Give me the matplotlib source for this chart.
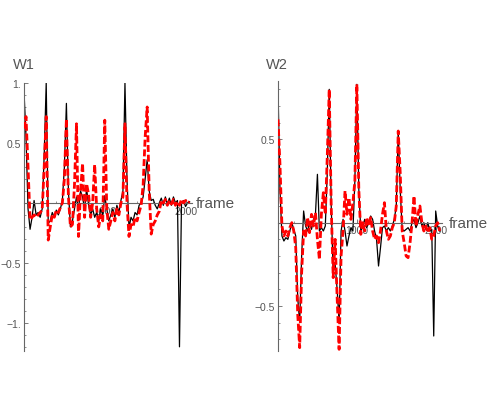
import numpy as np
import matplotlib
matplotlib.use("Agg")
import matplotlib.pyplot as plt
from matplotlib.ticker import FixedLocator, MultipleLocator

plt.rcParams['font.family'] = ['Liberation Sans', 'DejaVu Sans']

frame_step = 25

w1_black = [0.93, 0.55, -0.05, -0.22, -0.12, 0.02, -0.10, -0.08, -0.12, -0.05,
            0.40, 1.00, -0.17, -0.15, -0.08, -0.12, -0.06, -0.10, -0.05, 0.02,
            0.30, 0.83, 0.10, -0.20, -0.15, -0.05, 0.05, -0.05, 0.10, 0.05,
            -0.05, 0.12, -0.02, -0.10, -0.05, -0.12, -0.08, -0.15, -0.05, -0.10,
            0.06, -0.05, -0.15, -0.10, -0.05, -0.12, -0.02, -0.08, 0.02, 0.10,
            1.00, 0.20, -0.21, -0.12, -0.15, -0.08, -0.10, -0.02, 0.00, 0.05,
            0.20, 0.36, 0.10, 0.02, 0.03, -0.02, -0.05, 0.00, 0.04, -0.02,
            0.05, -0.01, 0.04, -0.02, 0.05, 0.00, 0.02, -1.20, 0.00, 0.02,
            -0.03, 0.00, 0.01]
w1_red = [0.62, 0.72, 0.30, -0.14, -0.12, -0.10, -0.12, -0.10, -0.08, -0.06,
          0.30, 0.72, -0.31, -0.20, -0.10, -0.12, -0.06, -0.08, -0.04, 0.00,
          0.20, 0.70, 0.05, -0.20, -0.18, 0.15, 0.66, -0.28, 0.10, 0.33,
          -0.12, 0.16, 0.07, -0.12, 0.00, 0.32, -0.05, -0.20, -0.10, -0.15,
          0.69, -0.05, -0.22, -0.15, -0.08, -0.15, -0.05, -0.10, 0.00, 0.05,
          0.66, 0.00, -0.28, -0.18, -0.20, -0.12, -0.15, -0.08, -0.02, 0.15,
          0.55, 0.80, 0.10, -0.26, -0.18, -0.15, -0.10, -0.07, 0.02, 0.00,
          0.03, -0.02, 0.02, -0.01, 0.03, -0.02, 0.01, -0.02, 0.03, 0.00,
          0.02, 0.00, 0.01]

w2_black = [0.81, 0.20, -0.08, -0.11, -0.09, -0.10, -0.05, 0.00, -0.04, -0.08,
            -0.45, -0.60, -0.20, 0.07, -0.02, -0.05, 0.00, -0.04, 0.02, 0.05,
            0.29, -0.05, -0.03, -0.05, -0.02, 0.30, 0.80, 0.10, -0.30, -0.25,
            -0.40, -0.60, -0.05, 0.02, -0.05, -0.14, -0.08, -0.03, -0.05, 0.25,
            0.83, 0.20, -0.05, -0.02, 0.02, -0.03, 0.00, 0.04, 0.02, -0.05,
            -0.10, -0.26, -0.15, -0.03, -0.02, -0.05, -0.03, -0.05, -0.02, 0.02,
            0.10, 0.55, 0.20, -0.04, -0.05, -0.04, -0.03, -0.05, 0.00, 0.02,
            -0.03, 0.00, 0.04, -0.02, 0.00, -0.04, 0.00, -0.05, -0.04, -0.68,
            0.07, -0.02, -0.05]
w2_red = [0.62, 0.35, -0.02, -0.08, -0.05, -0.08, -0.03, 0.00, -0.05, -0.15,
          -0.55, -0.75, -0.30, -0.05, -0.08, 0.03, -0.06, 0.05, -0.02, 0.06,
          -0.10, -0.22, 0.05, 0.18, 0.05, 0.40, 0.80, 0.10, -0.33, -0.10,
          -0.45, -0.76, -0.20, -0.05, 0.19, 0.05, 0.15, 0.02, 0.12, 0.25,
          0.83, 0.20, -0.07, 0.00, -0.05, 0.03, -0.02, 0.03, -0.05, -0.10,
          -0.08, -0.12, -0.05, 0.05, 0.12, -0.05, -0.10, -0.08, -0.03, 0.00,
          0.10, 0.55, 0.30, -0.05, -0.12, -0.20, -0.21, -0.12, 0.00, 0.16,
          -0.02, 0.05, 0.10, 0.00, -0.05, -0.02, -0.06, -0.03, -0.10, -0.08,
          -0.02, 0.00, -0.05]

titles = ["W1", "W2"]
x_ticks = [1000, 2000]
y_ticks_w1 = [-1.0, -0.5, 0.5, 1.0]
y_labels_w1 = ["\u22121.", "\u22120.5", "0.5", "1."]
y_ticks_w2 = [-0.5, 0.5]
y_labels_w2 = ["\u22120.5", "0.5"]

W, H = 490, 410
fig = plt.figure(figsize=(4.9, 4.1), dpi=100)

axc = '#666666'
txtc = '#555555'

def setup(ax, ylim, yt, yl, title, title_x):
    ax.set_xlim(0, 2080)
    ax.set_ylim(*ylim)
    for s in ['top', 'right']:
        ax.spines[s].set_visible(False)
    ax.spines['left'].set_position(('data', 0))
    ax.spines['bottom'].set_position(('data', 0))
    for s in ['left', 'bottom']:
        ax.spines[s].set_color(axc)
        ax.spines[s].set_linewidth(0.8)
    ax.xaxis.set_major_locator(FixedLocator(x_ticks))
    ax.xaxis.set_minor_locator(MultipleLocator(200))
    ax.set_xticklabels([str(v) for v in x_ticks])
    ax.yaxis.set_major_locator(FixedLocator(yt))
    ax.yaxis.set_minor_locator(MultipleLocator(0.1))
    ax.set_yticklabels(yl)
    ax.tick_params(which='major', direction='in', length=3, width=0.6,
                   color=axc, labelcolor=txtc, labelsize=7.5, pad=2)
    ax.tick_params(which='minor', direction='in', length=1.5, width=0.5, color=axc)
    ax.patch.set_alpha(0)
    fig.text(title_x / W, 1 - 65 / H, title, fontsize=10.5, color=txtc,
             ha='left', va='center')

frames = np.arange(len(w1_black)) * frame_step

ax1 = fig.add_axes([24 / W, 58 / H, 168 / W, 268 / H])
ax1.plot(frames, w1_black, color='black', lw=0.9, zorder=2)
ax1.plot(frames, w1_red, color='#ff0000', lw=2.0, ls=(0, (2.5, 1)), zorder=3)
setup(ax1, (-1.235, 1.0), y_ticks_w1, y_labels_w1, titles[0], 13)
ax1.text(196 / W, 1 - 204 / H, "frame", transform=fig.transFigure,
         fontsize=11, color=txtc, ha='left', va='center')

ax2 = fig.add_axes([278 / W, 58 / H, 164 / W, 270 / H])
ax2.plot(frames, w2_black, color='black', lw=0.9, zorder=2)
ax2.plot(frames, w2_red, color='#ff0000', lw=2.0, ls=(0, (2.5, 1)), zorder=3)
setup(ax2, (-0.77, 0.85), y_ticks_w2, y_labels_w2, titles[1], 266)
ax2.text(449 / W, 1 - 224 / H, "frame", transform=fig.transFigure,
         fontsize=11, color=txtc, ha='left', va='center')

fig.savefig("out.png", dpi=100)
